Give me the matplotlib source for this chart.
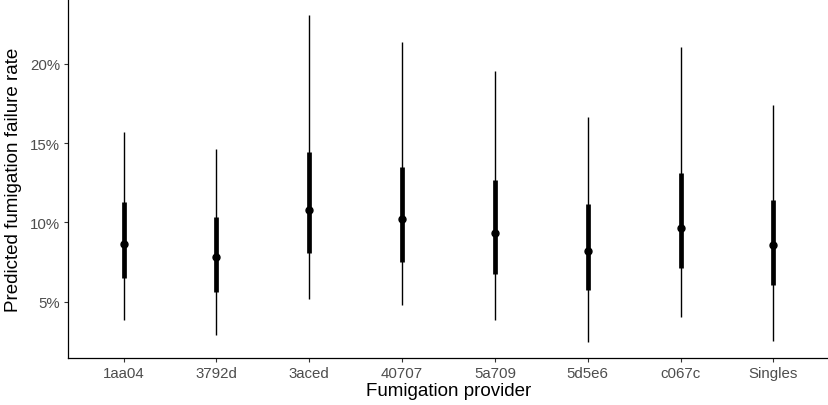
import matplotlib.pyplot as plt
import matplotlib.ticker as mticker

# Predicted failure rates (%) per provider: median, 50% and 95% intervals
providers = ["1aa04", "3792d", "3aced", "40707", "5a709", "5d5e6", "c067c", "Singles"]
median = [8.66, 7.81, 10.78, 10.19, 9.37, 8.22, 9.66, 8.57]
inner_lo = [6.52, 5.61, 8.05, 7.54, 6.77, 5.72, 7.15, 6.05]
inner_hi = [11.32, 10.36, 14.45, 13.51, 12.67, 11.18, 13.11, 11.41]
outer_lo = [3.84, 2.90, 5.19, 4.79, 3.87, 2.48, 4.03, 2.56]
outer_hi = [15.69, 14.60, 23.04, 21.36, 19.51, 16.66, 21.07, 17.39]

plt.rcParams['font.family'] = ['Liberation Sans', 'DejaVu Sans']

fig = plt.figure(figsize=(8.29, 4.06), dpi=100)
ax = fig.add_axes([0.082, 0.115, 0.918, 0.885])

x = range(1, len(providers) + 1)
ax.vlines(x, outer_lo, outer_hi, color='black', linewidth=1.0)
ax.vlines(x, inner_lo, inner_hi, color='black', linewidth=3.4)
ax.plot(x, median, 'o', color='black', markersize=5)

ax.set_xlim(0.4, len(providers) + 0.6)
ax.set_ylim(1.45, 24.07)
ax.set_xticks(list(x))
ax.set_xticklabels(providers)
ax.set_yticks([5, 10, 15, 20])
ax.yaxis.set_major_formatter(mticker.FuncFormatter(lambda v, p: f"{v:.0f}%"))

for s in ['top', 'right']:
    ax.spines[s].set_visible(False)
for s in ['left', 'bottom']:
    ax.spines[s].set_linewidth(0.9)
ax.tick_params(length=3.2, width=0.8, color='#333333', labelcolor='#4D4D4D',
               labelsize=10.8, pad=2.5)

ax.set_xlabel("Fumigation provider", fontsize=13.5, labelpad=1.5)
ax.set_ylabel("Predicted fumigation failure rate", fontsize=13.5, labelpad=6)

fig.savefig("out.png", dpi=100)
